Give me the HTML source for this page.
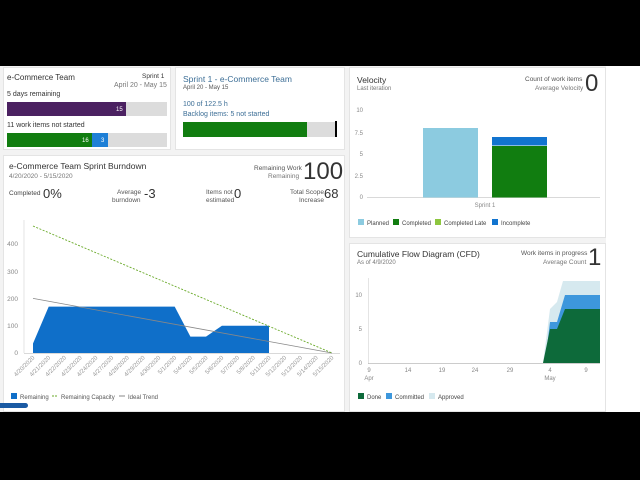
<!DOCTYPE html>
<html><head><meta charset="utf-8"><style>
body{margin:0;width:640px;height:480px;background:#000;overflow:hidden;font-family:"Liberation Sans",sans-serif;position:relative}
.pg{position:absolute;left:0;top:66px;width:640px;height:346px;background:#f3f3f3}
.c{position:absolute;background:#fff;border:1px solid #e4e4e4;box-sizing:border-box}
.t{position:absolute;white-space:nowrap;color:#333}
.s{font-size:6.5px;color:#777}
svg{position:absolute;left:0;top:0}
</style></head><body>
<div class="pg"></div>
<div style="position:absolute;left:606px;top:66px;width:34px;height:346px;background:#fff"></div>
<div class="c" style="left:3px;top:67px;width:168px;height:83px"></div>
<div class="c" style="left:175px;top:67px;width:170px;height:83px"></div>
<div class="c" style="left:3px;top:155px;width:342px;height:257px"></div>
<div class="c" style="left:349px;top:67px;width:257px;height:171px"></div>
<div class="c" style="left:349px;top:243px;width:257px;height:169px"></div>

<div class="t" style="left:7px;top:73px;font-size:8px">e-Commerce Team</div>
<div class="t" style="left:142px;top:73px;font-size:6.5px">Sprint 1</div>
<div class="t s" style="left:114px;top:82px;font-size:7px">April 20 - May 15</div>
<div class="t" style="left:7px;top:91px;font-size:7px">5 days remaining</div>
<div style="position:absolute;left:7px;top:102px;width:160px;height:14px;background:#dcdcdc"></div>
<div style="position:absolute;left:7px;top:102px;width:119px;height:14px;background:#4b2161"></div>
<div class="t" style="left:116px;top:107px;font-size:6px;color:#fff">15</div>
<div class="t" style="left:7px;top:122px;font-size:7px">11 work items not started</div>
<div style="position:absolute;left:7px;top:133px;width:160px;height:14px;background:#dcdcdc"></div>
<div style="position:absolute;left:7px;top:133px;width:85px;height:14px;background:#117d10"></div>
<div style="position:absolute;left:92px;top:133px;width:16px;height:14px;background:#1e7fd6"></div>
<div class="t" style="left:82px;top:138px;font-size:6px;color:#fff">16</div>
<div class="t" style="left:101px;top:138px;font-size:6px;color:#fff">3</div>

<div class="t" style="left:183px;top:74px;font-size:8.5px;color:#3c6e96">Sprint 1 - e-Commerce Team</div>
<div class="t s" style="left:183px;top:85px;font-size:6px;color:#555">April 20 - May 15</div>
<div class="t" style="left:183px;top:101px;font-size:7px;color:#3c6e96">100 of 122.5 h</div>
<div class="t" style="left:183px;top:111px;font-size:7px;color:#3c6e96">Backlog items: 5 not started</div>
<div style="position:absolute;left:183px;top:122px;width:154px;height:15px;background:#dcdcdc"></div>
<div style="position:absolute;left:183px;top:122px;width:124px;height:15px;background:#117d10"></div>
<div style="position:absolute;left:335px;top:121px;width:2px;height:16px;background:#000"></div>

<div class="t" style="left:9px;top:161px;font-size:8.5px">e-Commerce Team Sprint Burndown</div>
<div class="t s" style="left:9px;top:173px">4/20/2020 - 5/15/2020</div>
<div class="t s" style="left:254px;top:165px;color:#555">Remaining Work</div>
<div class="t s" style="left:268px;top:173px">Remaining</div>
<div class="t" style="left:303px;top:158px;font-size:24px;font-weight:300">100</div>
<div class="t s" style="left:9px;top:190px;color:#444">Completed</div>
<div class="t" style="left:43px;top:186px;font-size:13px">0%</div>
<div class="t s" style="left:117px;top:189px;color:#555">Average</div>
<div class="t s" style="left:112px;top:197px;color:#555">burndown</div>
<div class="t" style="left:144px;top:186px;font-size:13px">-3</div>
<div class="t s" style="left:206px;top:189px;color:#555">Items not</div>
<div class="t s" style="left:206px;top:197px;color:#555">estimated</div>
<div class="t" style="left:234px;top:186px;font-size:13px">0</div>
<div class="t s" style="left:290px;top:189px;color:#555">Total Scope</div>
<div class="t s" style="left:299px;top:197px;color:#555">Increase</div>
<div class="t" style="left:324px;top:186px;font-size:13px">68</div>

<div class="t" style="left:357px;top:75px;font-size:8.5px">Velocity</div>
<div class="t s" style="left:357px;top:86px;font-size:6px">Last iteration</div>
<div class="t s" style="left:525px;top:76px;color:#555">Count of work items</div>
<div class="t s" style="left:535px;top:85px">Average Velocity</div>
<div class="t" style="left:585px;top:70px;font-size:24px;font-weight:300">0</div>

<div class="t" style="left:357px;top:249px;font-size:8.5px">Cumulative Flow Diagram (CFD)</div>
<div class="t s" style="left:357px;top:260px;font-size:6px">As of 4/9/2020</div>
<div class="t s" style="left:521px;top:250px;color:#555">Work items in progress</div>
<div class="t s" style="left:543px;top:259px">Average Count</div>
<div class="t" style="left:588px;top:244px;font-size:24px;font-weight:300">1</div>

<div style="position:absolute;left:0;top:403px;width:28px;height:5px;background:#1a5aa3;border-radius:0 3px 3px 0"></div>

<svg width="640" height="480" font-family="Liberation Sans, sans-serif">
<!-- burndown -->
<g font-size="6.5" fill="#888" text-anchor="end">
<text x="18" y="246">400</text><text x="18" y="274">300</text><text x="18" y="301">200</text><text x="18" y="328">100</text><text x="18" y="355">0</text>
</g>
<line x1="24" y1="220" x2="24" y2="353" stroke="#ddd" stroke-width="0.8"/>
<line x1="24" y1="353.5" x2="340" y2="353.5" stroke="#ccc" stroke-width="0.8"/>
<polygon points="33,353 33,343.5 48.7,306.6 174.7,306.6 190.4,336.6 206,336.6 221.9,325.7 269,325.7 269,353" fill="#0f6fc9"/>
<line x1="33" y1="298.4" x2="332" y2="353" stroke="#888" stroke-width="0.8"/>
<line x1="33" y1="226" x2="332" y2="353" stroke="#6aaa2a" stroke-width="0.9" stroke-dasharray="2,1.5"/>
<g font-size="6" fill="#999" text-anchor="end">
<text transform="translate(35,358) rotate(-45)">4/20/2020</text>
<text transform="translate(50.7,358) rotate(-45)">4/21/2020</text>
<text transform="translate(66.5,358) rotate(-45)">4/22/2020</text>
<text transform="translate(82.2,358) rotate(-45)">4/23/2020</text>
<text transform="translate(98,358) rotate(-45)">4/24/2020</text>
<text transform="translate(113.7,358) rotate(-45)">4/27/2020</text>
<text transform="translate(129.4,358) rotate(-45)">4/28/2020</text>
<text transform="translate(145.2,358) rotate(-45)">4/29/2020</text>
<text transform="translate(160.9,358) rotate(-45)">4/30/2020</text>
<text transform="translate(176.7,358) rotate(-45)">5/1/2020</text>
<text transform="translate(192.4,358) rotate(-45)">5/4/2020</text>
<text transform="translate(208.1,358) rotate(-45)">5/5/2020</text>
<text transform="translate(223.9,358) rotate(-45)">5/6/2020</text>
<text transform="translate(239.6,358) rotate(-45)">5/7/2020</text>
<text transform="translate(255.4,358) rotate(-45)">5/8/2020</text>
<text transform="translate(271.1,358) rotate(-45)">5/11/2020</text>
<text transform="translate(286.8,358) rotate(-45)">5/12/2020</text>
<text transform="translate(302.6,358) rotate(-45)">5/13/2020</text>
<text transform="translate(318.3,358) rotate(-45)">5/14/2020</text>
<text transform="translate(334,358) rotate(-45)">5/15/2020</text>
</g>
<rect x="11" y="393" width="6" height="6" fill="#0f6fc9"/>
<text x="20" y="399" font-size="6" fill="#555">Remaining</text>
<line x1="52" y1="396" x2="58" y2="396" stroke="#6aaa2a" stroke-dasharray="2,1"/>
<text x="61" y="399" font-size="6" fill="#555">Remaining Capacity</text>
<line x1="119" y1="396" x2="125" y2="396" stroke="#888"/>
<text x="128" y="399" font-size="6" fill="#555">Ideal Trend</text>

<!-- velocity -->
<g font-size="6" fill="#888" text-anchor="end">
<text x="363" y="112">10</text><text x="363" y="135">7.5</text><text x="363" y="156">5</text><text x="363" y="178">2.5</text><text x="363" y="199">0</text>
</g>
<line x1="367" y1="197.5" x2="600" y2="197.5" stroke="#ccc" stroke-width="0.8"/>
<rect x="423" y="128" width="55" height="69.5" fill="#8ccbe0"/>
<rect x="492" y="137" width="55" height="8.5" fill="#1274cf"/>
<rect x="492" y="146" width="55" height="51.5" fill="#117d10"/>
<text x="485" y="207" font-size="6" fill="#888" text-anchor="middle">Sprint 1</text>
<g font-size="6" fill="#444">
<rect x="358" y="219" width="6" height="6" fill="#8ccbe0"/><text x="367" y="225">Planned</text>
<rect x="393" y="219" width="6" height="6" fill="#117d10"/><text x="402" y="225">Completed</text>
<rect x="435" y="219" width="6" height="6" fill="#8dc63f"/><text x="444" y="225">Completed Late</text>
<rect x="492" y="219" width="6" height="6" fill="#1274cf"/><text x="501" y="225">Incomplete</text>
</g>

<!-- CFD -->
<g font-size="6" fill="#888" text-anchor="end">
<text x="362" y="297">10</text><text x="362" y="331">5</text><text x="362" y="365">0</text>
</g>
<line x1="368.5" y1="278" x2="368.5" y2="364" stroke="#ddd" stroke-width="0.8"/>
<line x1="368" y1="363.5" x2="600" y2="363.5" stroke="#bbb" stroke-width="0.8"/>
<polygon points="543,363 550,309 557,302 563,281 600,281 600,363" fill="#d6e9ef"/>
<polygon points="545,363 550,322 557,322 565,295 600,295 600,363" fill="#3d97dc"/>
<polygon points="543,363 550,329 557,329 565,309 600,309 600,363" fill="#0d6a3a"/>
<g font-size="6" fill="#888" text-anchor="middle">
<text x="369" y="372">9</text><text x="369" y="380">Apr</text>
<text x="408" y="372">14</text><text x="442" y="372">19</text><text x="475" y="372">24</text><text x="510" y="372">29</text>
<text x="550" y="372">4</text><text x="550" y="380">May</text><text x="586" y="372">9</text>
</g>
<g font-size="6" fill="#444">
<rect x="358" y="393" width="6" height="6" fill="#0d6a3a"/><text x="367" y="399">Done</text>
<rect x="386" y="393" width="6" height="6" fill="#3d97dc"/><text x="395" y="399">Committed</text>
<rect x="429" y="393" width="6" height="6" fill="#d6e9ef"/><text x="438" y="399">Approved</text>
</g>
</svg>
</body></html>
